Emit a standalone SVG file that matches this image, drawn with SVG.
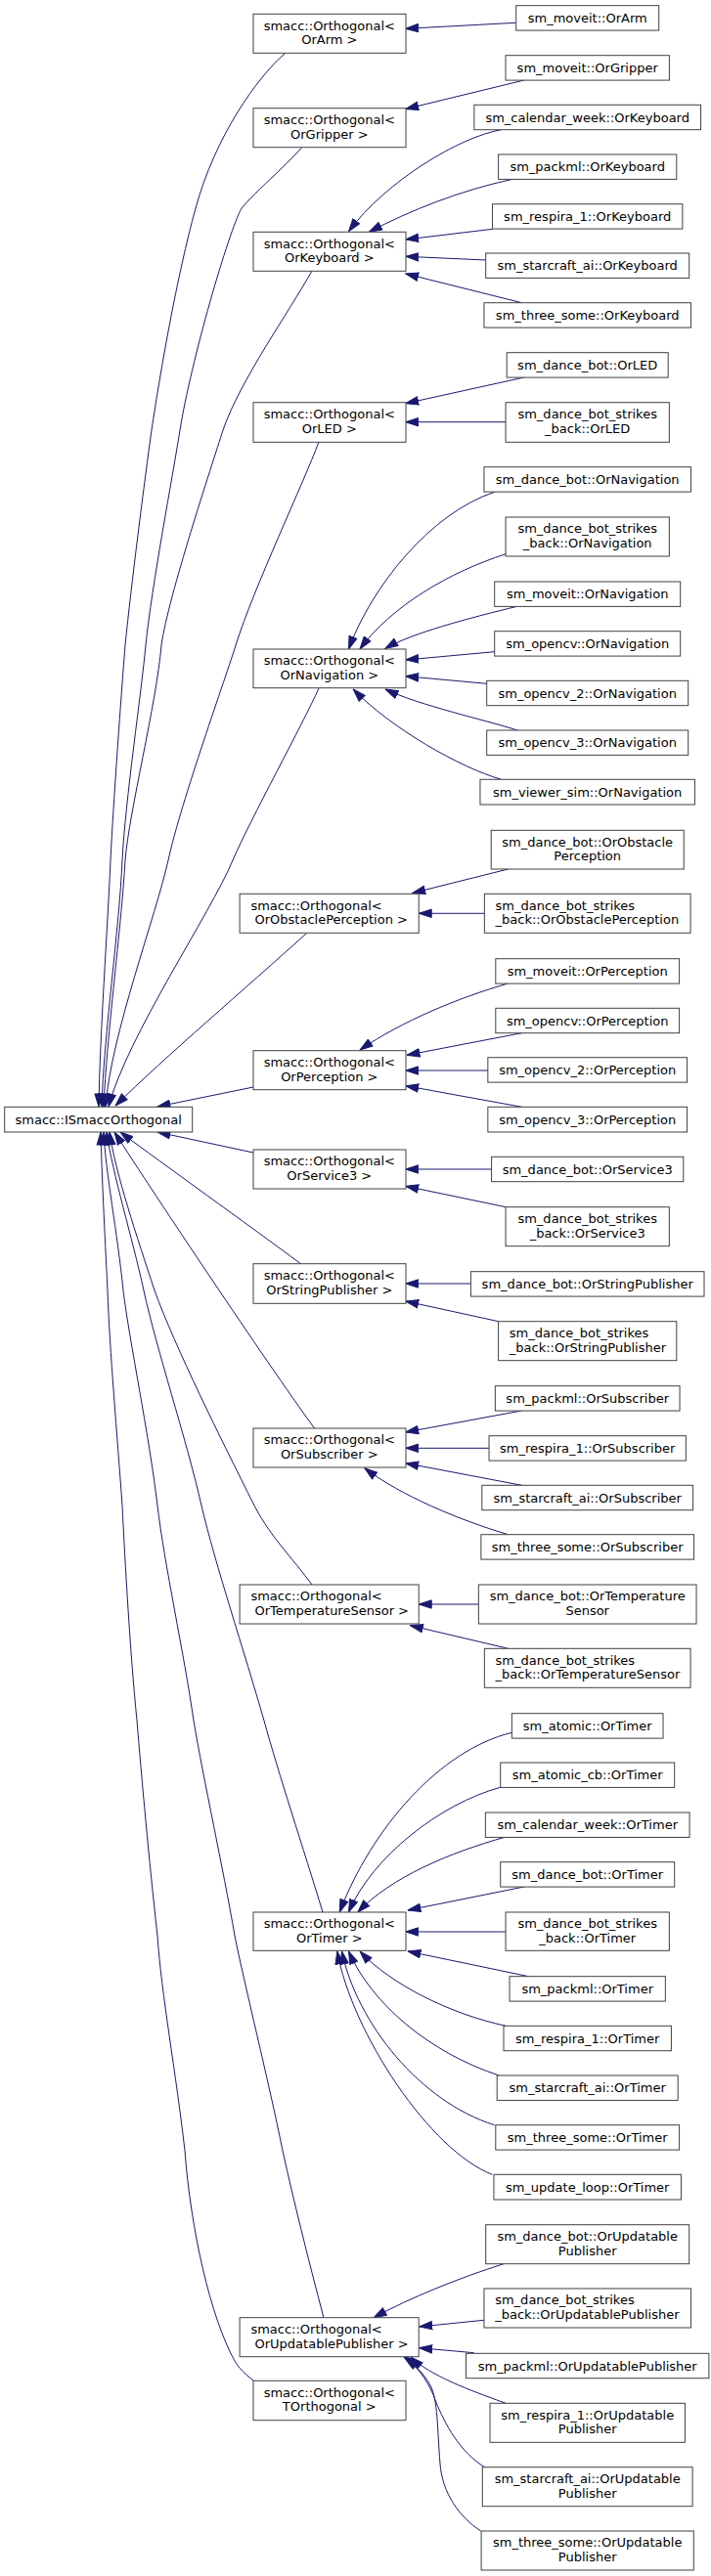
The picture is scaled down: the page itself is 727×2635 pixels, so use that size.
<svg xmlns="http://www.w3.org/2000/svg" width="727" height="2635" viewBox="0 0 727 2635">
<style>
rect{fill:#fff;stroke:#404040;stroke-width:1}
text{font-family:"DejaVu Sans","Liberation Sans",sans-serif;font-size:13px;fill:#000}
.c{text-anchor:middle}
#edges path{fill:none;stroke:#191970;stroke-width:1;marker-end:url(#ah)}
</style>
<defs>
<marker id="ah" viewBox="0 0 14 10" markerWidth="14" markerHeight="10" refX="13.5" refY="5" orient="auto" markerUnits="userSpaceOnUse"><path d="M0.5,0.8 L13.5,5 L0.5,9.2 z" fill="#191970" stroke="#191970" stroke-width="1"/></marker>
</defs>
<rect x="0" y="0" width="727" height="2635" style="fill:#fff;stroke:none"/>
<g id="edges">
<!-- into ISmacc top -->
<path d="M292,54 C262,80 220,140 200,213 C181,282 164,380 155,440 C148,490 134,600 128,660 C124,710 116,820 113,880 C110,950 102,1060 101,1132"/>
<path d="M308.5,151 C290,172 262,195 247,213 C234,236 195,370 184,440 C177,485 155,600 149,660 C145,705 128,820 125,880 C122,950 106,1060 104,1132"/>
<path d="M319,277 C295,320 245,390 228,440 C217,475 172,610 165,660 C160,720 132,830 128,880 C124,950 109,1060 106,1132"/>
<path d="M326,452 C310,495 260,600 241,660 C232,690 185,820 172,880 C160,935 113,1060 108,1132"/>
<path d="M326,704 C310,740 255,840 238,880 C215,935 130,1060 111,1132"/>
<path d="M313,955 C250,1012 170,1080 118,1131"/>
<path d="M259,1112 L161,1132"/>
<!-- into ISmacc bottom -->
<path d="M259,1179 L161,1158"/>
<path d="M307.5,1292.7 C250,1250 170,1193 123,1158"/>
<path d="M321.5,1461 C270,1390 160,1225 117,1158"/>
<path d="M319,1621 C300,1595 275,1570 260,1540 C225,1470 180,1380 158,1320 C140,1265 118,1200 112,1158"/>
<path d="M330,1956 C310,1890 285,1815 270,1760 C250,1690 220,1600 206,1540 C190,1470 160,1380 147,1320 C135,1265 115,1200 109,1158"/>
<path d="M331,2371 C315,2310 300,2250 289,2200 C275,2130 250,2030 240,1980 C228,1910 208,1820 198,1760 C188,1690 168,1600 161,1540 C152,1465 132,1370 126,1320 C120,1260 108,1200 106,1158"/>
<path d="M259,2435 C250,2428 244,2422 240,2415 C215,2370 195,2280 189,2200 C180,2120 165,2040 161,1980 C152,1900 145,1820 140,1760 C133,1690 128,1600 125,1540 C120,1470 112,1380 110,1320 C107,1260 104,1200 103,1158"/>
<!-- OrArm, OrGripper -->
<path d="M527.5,23.3 L414.7,29.3"/>
<path d="M536,82 L414.7,111.5"/>
<!-- OrKeyboard -->
<path d="M512.6,132.7 C470,140 395,185 356.5,236.7"/>
<path d="M524.2,183.3 C470,195 420,215 377.4,237.3"/>
<path d="M503.7,234.3 L414.7,245"/>
<path d="M496.7,266 L414.7,262.3"/>
<path d="M533.5,309.7 L414.7,280"/>
<!-- OrLED -->
<path d="M536,386 L414.7,412.7"/>
<path d="M517.2,431.7 L414.7,431.7"/>
<!-- OrNavigation -->
<path d="M505.6,503.3 C440,525 380,600 356.5,664"/>
<path d="M517.2,566.7 C460,585 400,620 368,664"/>
<path d="M528.9,620.3 C480,632 420,648 393.8,663.5"/>
<path d="M505.6,666.7 L414.7,675"/>
<path d="M497.7,699.3 L414.7,691.7"/>
<path d="M529,747 C495,736 430,722 394,705"/>
<path d="M512.6,797.3 C470,785 400,745 361.1,705"/>
<!-- OrObstaclePerception -->
<path d="M519.6,889 L421.7,913.5"/>
<path d="M495.3,934.3 L428.2,934.3"/>
<!-- OrPerception -->
<path d="M519.6,1006 C470,1020 410,1045 368,1074"/>
<path d="M533.5,1056.7 L416,1079.3"/>
<path d="M499,1095 L414.7,1095"/>
<path d="M533.5,1132.3 L414.7,1110.7"/>
<!-- OrService3 -->
<path d="M502.8,1196 L414.7,1196"/>
<path d="M517.2,1234.7 L414.7,1213.3"/>
<!-- OrStringPublisher -->
<path d="M481.4,1313 L414.7,1313"/>
<path d="M509.8,1351.7 L414.7,1331"/>
<!-- OrSubscriber -->
<path d="M533.5,1443 L414.7,1465"/>
<path d="M500,1481.3 L414.7,1481.3"/>
<path d="M533.5,1519.3 L414.7,1496.7"/>
<path d="M519.6,1569.7 C470,1555 410,1530 372.8,1501.7"/>
<!-- OrTemperatureSensor -->
<path d="M489.3,1641 L428.2,1641"/>
<path d="M519.6,1686.3 L419.4,1662.7"/>
<!-- OrTimer -->
<path d="M523.3,1772.3 C450,1790 380,1870 347.2,1956"/>
<path d="M511.6,1828.3 C450,1845 380,1900 356.5,1956"/>
<path d="M517.2,1879 C460,1895 400,1920 365.8,1956"/>
<path d="M535.9,1930 L417,1954"/>
<path d="M517.2,1976 L414.7,1976"/>
<path d="M540.5,2021.7 L417,1996"/>
<path d="M517.2,2072.3 C460,2060 400,2030 368,1996"/>
<path d="M510.3,2123 C440,2100 380,2050 356.5,1996"/>
<path d="M505.6,2173.7 C430,2150 365,2070 349.5,1996"/>
<path d="M503.3,2224.3 C440,2200 360,2080 344.8,1996"/>
<!-- OrUpdatablePublisher -->
<path d="M515,2315.7 C470,2330 420,2350 382.1,2370.7"/>
<path d="M494.9,2373.3 L428.7,2380"/>
<path d="M484.6,2406.7 L428.7,2401.7"/>
<path d="M517.2,2458.3 C480,2445 440,2430 420,2411"/>
<path d="M496,2524 C470,2508 455,2480 445,2455 C440,2440 430,2425 416,2411"/>
<path d="M491.6,2589 C470,2575 452,2550 450,2520 C447,2485 448,2455 440,2440 C433,2427 423,2418 413,2411"/>
</g>
<!-- middle / base nodes -->
<g id="ismacc"><rect x="4.7" y="1132.3" width="192" height="25.7"/><text class="c" x="100.7" y="1149.7">smacc::ISmaccOrthogonal</text></g>
<g id="orarm"><rect x="259" y="14.3" width="156" height="40"/><text class="c" x="336.8" y="30.6">smacc::Orthogonal&lt;</text><text class="c" x="336.8" y="45.3">OrArm &gt;</text></g>
<g id="orgripper"><rect x="259" y="110.7" width="156" height="40"/><text class="c" x="336.8" y="127">smacc::Orthogonal&lt;</text><text class="c" x="336.8" y="141.7">OrGripper &gt;</text></g>
<g id="orkeyboard"><rect x="259" y="237.3" width="156" height="40"/><text class="c" x="336.8" y="253.6">smacc::Orthogonal&lt;</text><text class="c" x="336.8" y="268.3">OrKeyboard &gt;</text></g>
<g id="orled"><rect x="259" y="411.7" width="156" height="40.6"/><text class="c" x="336.8" y="428">smacc::Orthogonal&lt;</text><text class="c" x="336.8" y="442.7">OrLED &gt;</text></g>
<g id="ornavigation"><rect x="259" y="664" width="156" height="39.7"/><text class="c" x="336.8" y="680.3">smacc::Orthogonal&lt;</text><text class="c" x="336.8" y="695">OrNavigation &gt;</text></g>
<g id="orobstacle"><rect x="245.1" y="914.3" width="183.1" height="40"/><text x="256.4" y="930.6">smacc::Orthogonal&lt;</text><text x="260.5" y="945.3">OrObstaclePerception &gt;</text></g>
<g id="orperception"><rect x="259" y="1074.7" width="156" height="40"/><text class="c" x="336.8" y="1091">smacc::Orthogonal&lt;</text><text class="c" x="336.8" y="1105.7">OrPerception &gt;</text></g>
<g id="orservice3"><rect x="259" y="1176" width="156" height="40"/><text class="c" x="336.8" y="1192.3">smacc::Orthogonal&lt;</text><text class="c" x="336.8" y="1207">OrService3 &gt;</text></g>
<g id="orstringpub"><rect x="259" y="1292.7" width="156" height="40.6"/><text class="c" x="336.8" y="1309">smacc::Orthogonal&lt;</text><text class="c" x="336.8" y="1323.7">OrStringPublisher &gt;</text></g>
<g id="orsubscriber"><rect x="259" y="1461" width="156" height="40"/><text class="c" x="336.8" y="1477.3">smacc::Orthogonal&lt;</text><text class="c" x="336.8" y="1492">OrSubscriber &gt;</text></g>
<g id="ortemperature"><rect x="245.1" y="1621" width="183.1" height="40"/><text x="256.4" y="1637.3">smacc::Orthogonal&lt;</text><text x="260.5" y="1652">OrTemperatureSensor &gt;</text></g>
<g id="ortimer"><rect x="259" y="1956" width="156" height="39.3"/><text class="c" x="336.8" y="1972.3">smacc::Orthogonal&lt;</text><text class="c" x="336.8" y="1987">OrTimer &gt;</text></g>
<g id="orupdatable"><rect x="245.1" y="2370.7" width="183.1" height="40"/><text x="256.4" y="2387">smacc::Orthogonal&lt;</text><text x="260.5" y="2401.7">OrUpdatablePublisher &gt;</text></g>
<g id="torthogonal"><rect x="259" y="2435.3" width="156" height="40.4"/><text class="c" x="336.8" y="2451.6">smacc::Orthogonal&lt;</text><text class="c" x="336.8" y="2466.3">TOrthogonal &gt;</text></g>
<!-- right column -->
<g id="moveit_arm"><rect x="527.7" y="5.7" width="146" height="25.4"/><text class="c" x="600.7" y="22.9">sm_moveit::OrArm</text></g>
<g id="moveit_gripper"><rect x="517" y="56.7" width="167.4" height="25.4"/><text class="c" x="600.7" y="73.9">sm_moveit::OrGripper</text></g>
<g id="calendar_kb"><rect x="484.85" y="107.3" width="231.7" height="25.4"/><text class="c" x="600.7" y="124.5">sm_calendar_week::OrKeyboard</text></g>
<g id="packml_kb"><rect x="509.6" y="158" width="182.2" height="25.4"/><text class="c" x="600.7" y="175.2">sm_packml::OrKeyboard</text></g>
<g id="respira_kb"><rect x="503.55" y="208.7" width="194.3" height="25.4"/><text class="c" x="600.7" y="225.9">sm_respira_1::OrKeyboard</text></g>
<g id="starcraft_kb"><rect x="496.7" y="259" width="208" height="25.4"/><text class="c" x="600.7" y="276.2">sm_starcraft_ai::OrKeyboard</text></g>
<g id="threesome_kb"><rect x="494.95" y="309.7" width="211.5" height="25.4"/><text class="c" x="600.7" y="326.9">sm_three_some::OrKeyboard</text></g>
<g id="dancebot_led"><rect x="518.2" y="360.7" width="165" height="25.4"/><text class="c" x="600.7" y="377.9">sm_dance_bot::OrLED</text></g>
<g id="dbsb_led"><rect x="517.05" y="411.7" width="167.3" height="40.6"/><text class="c" x="600.7" y="428">sm_dance_bot_strikes</text><text class="c" x="600.7" y="442.7">_back::OrLED</text></g>
<g id="dancebot_nav"><rect x="494.95" y="477.7" width="211.5" height="25.4"/><text class="c" x="600.7" y="494.9">sm_dance_bot::OrNavigation</text></g>
<g id="dbsb_nav"><rect x="517.05" y="529" width="167.3" height="40"/><text class="c" x="600.7" y="545.3">sm_dance_bot_strikes</text><text class="c" x="600.7" y="560">_back::OrNavigation</text></g>
<g id="moveit_nav"><rect x="505.7" y="595" width="190" height="25.4"/><text class="c" x="600.7" y="612.2">sm_moveit::OrNavigation</text></g>
<g id="opencv_nav"><rect x="505.7" y="645.7" width="190" height="25.4"/><text class="c" x="600.7" y="662.9">sm_opencv::OrNavigation</text></g>
<g id="opencv2_nav"><rect x="497.7" y="696.3" width="206" height="25.4"/><text class="c" x="600.7" y="713.5">sm_opencv_2::OrNavigation</text></g>
<g id="opencv3_nav"><rect x="497.7" y="747" width="206" height="25.4"/><text class="c" x="600.7" y="764.2">sm_opencv_3::OrNavigation</text></g>
<g id="viewer_nav"><rect x="490.95" y="797.3" width="219.5" height="25.7"/><text class="c" x="600.7" y="814.6">sm_viewer_sim::OrNavigation</text></g>
<g id="dancebot_obst"><rect x="502.2" y="849.3" width="197" height="39.7"/><text class="c" x="600.7" y="865.6">sm_dance_bot::OrObstacle</text><text class="c" x="600.7" y="880.3">Perception</text></g>
<g id="dbsb_obst"><rect x="495.35" y="914.3" width="210.7" height="40"/><text x="506.6" y="930.6">sm_dance_bot_strikes</text><text x="506.6" y="945.3">_back::OrObstaclePerception</text></g>
<g id="moveit_perc"><rect x="506.8" y="980.7" width="187.8" height="25.4"/><text class="c" x="600.7" y="997.9">sm_moveit::OrPerception</text></g>
<g id="opencv_perc"><rect x="506.8" y="1031.3" width="187.8" height="25.4"/><text class="c" x="600.7" y="1048.5">sm_opencv::OrPerception</text></g>
<g id="opencv2_perc"><rect x="498.85" y="1081.7" width="203.7" height="25.4"/><text class="c" x="600.7" y="1098.9">sm_opencv_2::OrPerception</text></g>
<g id="opencv3_perc"><rect x="498.85" y="1132.3" width="203.7" height="25.7"/><text class="c" x="600.7" y="1149.6">sm_opencv_3::OrPerception</text></g>
<g id="dancebot_srv3"><rect x="502.6" y="1183.3" width="196.2" height="25.4"/><text class="c" x="600.7" y="1200.5">sm_dance_bot::OrService3</text></g>
<g id="dbsb_srv3"><rect x="517.05" y="1234.7" width="167.3" height="40"/><text class="c" x="600.7" y="1251">sm_dance_bot_strikes</text><text class="c" x="600.7" y="1265.7">_back::OrService3</text></g>
<g id="dancebot_strpub"><rect x="481.4" y="1300.7" width="238.6" height="25.4"/><text class="c" x="600.7" y="1317.9">sm_dance_bot::OrStringPublisher</text></g>
<g id="dbsb_strpub"><rect x="509.6" y="1351.7" width="182.2" height="40"/><text x="520.8" y="1368">sm_dance_bot_strikes</text><text x="520.8" y="1382.7">_back::OrStringPublisher</text></g>
<g id="packml_sub"><rect x="506.35" y="1417.7" width="188.7" height="25.4"/><text class="c" x="600.7" y="1434.9">sm_packml::OrSubscriber</text></g>
<g id="respira_sub"><rect x="500.05" y="1468.7" width="201.3" height="25.4"/><text class="c" x="600.7" y="1485.9">sm_respira_1::OrSubscriber</text></g>
<g id="starcraft_sub"><rect x="492.8" y="1519.3" width="215.8" height="25.4"/><text class="c" x="600.7" y="1536.5">sm_starcraft_ai::OrSubscriber</text></g>
<g id="threesome_sub"><rect x="491.85" y="1569.7" width="217.7" height="25.4"/><text class="c" x="600.7" y="1586.9">sm_three_some::OrSubscriber</text></g>
<g id="dancebot_temp"><rect x="489.35" y="1621" width="222.7" height="40"/><text class="c" x="600.7" y="1637.3">sm_dance_bot::OrTemperature</text><text class="c" x="600.7" y="1652">Sensor</text></g>
<g id="dbsb_temp"><rect x="495.35" y="1686.3" width="210.7" height="40"/><text x="506.6" y="1702.6">sm_dance_bot_strikes</text><text x="506.6" y="1717.3">_back::OrTemperatureSensor</text></g>
<g id="atomic_timer"><rect x="523.35" y="1752.7" width="154.7" height="25.4"/><text class="c" x="600.7" y="1769.9">sm_atomic::OrTimer</text></g>
<g id="atomiccb_timer"><rect x="511.7" y="1803" width="178" height="25.4"/><text class="c" x="600.7" y="1820.2">sm_atomic_cb::OrTimer</text></g>
<g id="calendar_timer"><rect x="496.35" y="1854" width="208.7" height="25.4"/><text class="c" x="600.7" y="1871.2">sm_calendar_week::OrTimer</text></g>
<g id="dancebot_timer"><rect x="511.7" y="1904.7" width="178" height="25.4"/><text class="c" x="600.7" y="1921.9">sm_dance_bot::OrTimer</text></g>
<g id="dbsb_timer"><rect x="517.05" y="1956" width="167.3" height="39.3"/><text class="c" x="600.7" y="1972.3">sm_dance_bot_strikes</text><text class="c" x="600.7" y="1987">_back::OrTimer</text></g>
<g id="packml_timer"><rect x="521.05" y="2021.7" width="159.3" height="25.4"/><text class="c" x="600.7" y="2038.9">sm_packml::OrTimer</text></g>
<g id="respira_timer"><rect x="515" y="2072.3" width="171.4" height="25.4"/><text class="c" x="600.7" y="2089.5">sm_respira_1::OrTimer</text></g>
<g id="starcraft_timer"><rect x="508.2" y="2123" width="185" height="25.4"/><text class="c" x="600.7" y="2140.2">sm_starcraft_ai::OrTimer</text></g>
<g id="threesome_timer"><rect x="506.8" y="2173.7" width="187.8" height="25.4"/><text class="c" x="600.7" y="2190.9">sm_three_some::OrTimer</text></g>
<g id="updateloop_timer"><rect x="504.95" y="2224.3" width="191.5" height="25.7"/><text class="c" x="600.7" y="2241.6">sm_update_loop::OrTimer</text></g>
<g id="dancebot_upd"><rect x="496.7" y="2275.7" width="208" height="40"/><text class="c" x="600.7" y="2292">sm_dance_bot::OrUpdatable</text><text class="c" x="600.7" y="2306.7">Publisher</text></g>
<g id="dbsb_upd"><rect x="494.95" y="2341" width="211.5" height="40"/><text x="506.2" y="2357.3">sm_dance_bot_strikes</text><text x="506.2" y="2372">_back::OrUpdatablePublisher</text></g>
<g id="packml_upd"><rect x="476.5" y="2407.3" width="248.4" height="25.4"/><text class="c" x="600.7" y="2424.5">sm_packml::OrUpdatablePublisher</text></g>
<g id="respira_upd"><rect x="501" y="2458.3" width="199.4" height="40"/><text class="c" x="600.7" y="2474.6">sm_respira_1::OrUpdatable</text><text class="c" x="600.7" y="2489.3">Publisher</text></g>
<g id="starcraft_upd"><rect x="493.3" y="2523.7" width="214.8" height="40"/><text class="c" x="600.7" y="2540">sm_starcraft_ai::OrUpdatable</text><text class="c" x="600.7" y="2554.7">Publisher</text></g>
<g id="threesome_upd"><rect x="492.1" y="2589" width="217.2" height="40"/><text class="c" x="600.7" y="2605.3">sm_three_some::OrUpdatable</text><text class="c" x="600.7" y="2620">Publisher</text></g>
</svg>
